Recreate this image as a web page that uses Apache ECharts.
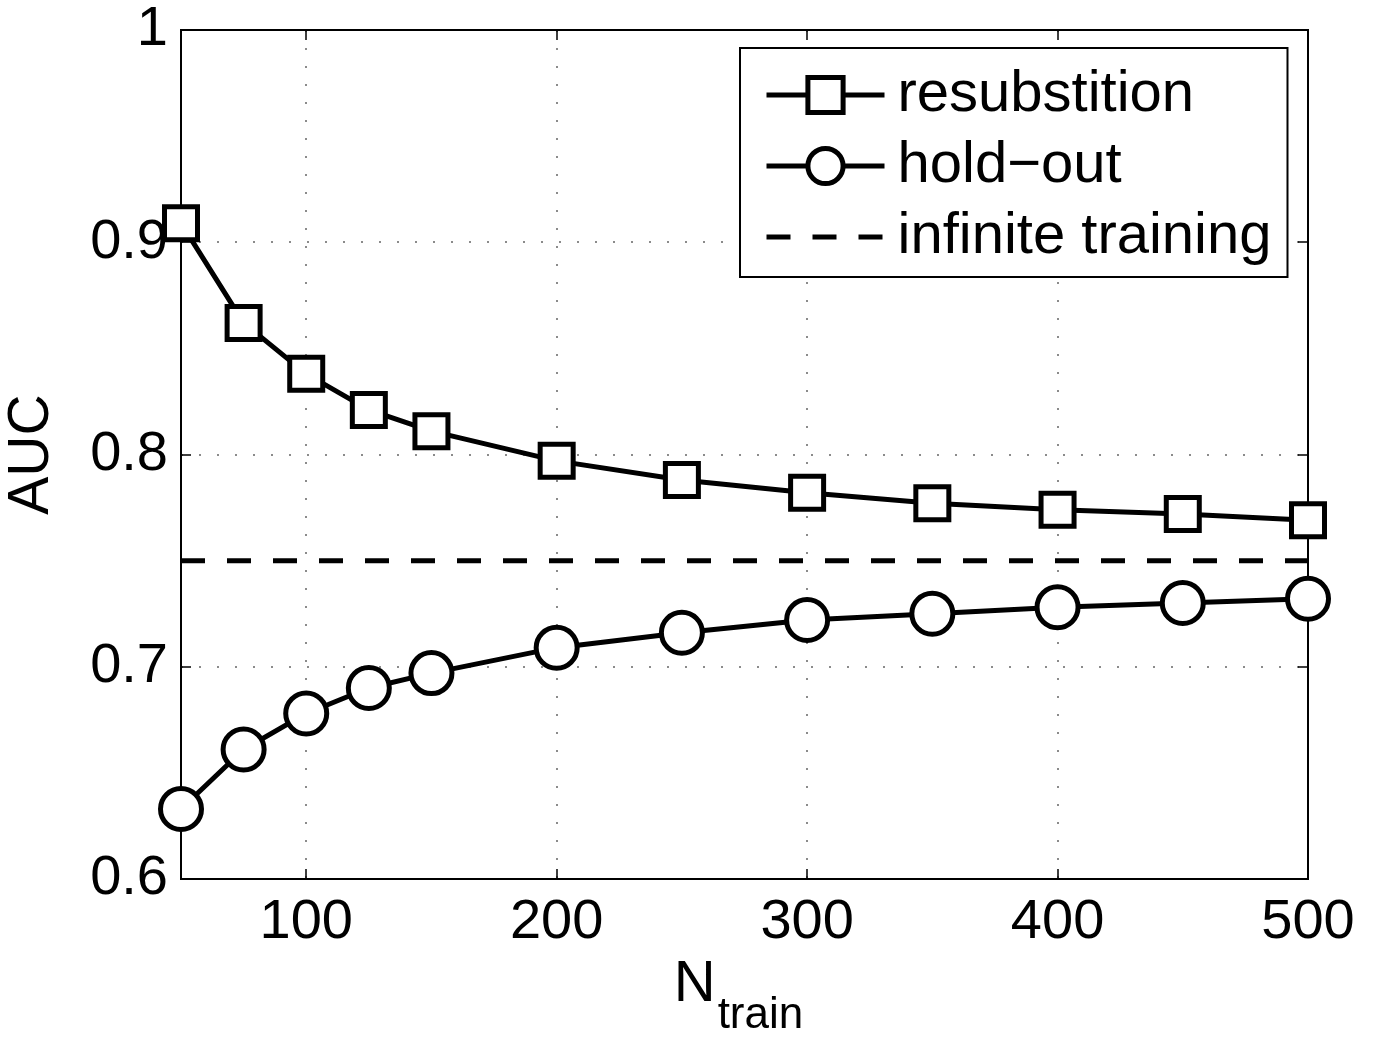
<!DOCTYPE html>
<html>
<head>
<meta charset="utf-8">
<script src="https://cdn.jsdelivr.net/npm/echarts@6/dist/echarts.min.js"></script>
<style>
html,body{margin:0;padding:0;background:#fff;}
#chart{width:1375px;height:1042px;}
</style>
</head>
<body>
<div id="chart"></div>
<script>
// ---- data ----
var nTrain = [50, 75, 100, 125, 150, 200, 250, 300, 350, 400, 450, 500];
var resubstitution = [0.909, 0.862, 0.838, 0.821, 0.811, 0.797, 0.788, 0.782, 0.777, 0.774, 0.772, 0.769];
var holdOut = [0.633, 0.661, 0.678, 0.690, 0.697, 0.709, 0.716, 0.722, 0.725, 0.728, 0.730, 0.732];
var infiniteTraining = [0.75, 0.75];
var infiniteX = [50, 500];
var xTicks = [100, 200, 300, 400, 500];
var yTicks = [0.6, 0.7, 0.8, 0.9, 1];
var seriesNames = ['resubstition', 'hold\u2212out', 'infinite training'];

function pairs(xs, ys) { return xs.map(function (x, i) { return [x, ys[i]]; }); }

var FONT = 'Liberation Sans, Arial, Helvetica, sans-serif';
var chart = echarts.init(document.getElementById('chart'), null, {renderer: 'canvas'});
var gridLine = {show: true, lineStyle: {color: '#666', width: 1.5, type: [2, 16]}};
var tickStyle = {show: true, inside: true, length: 10, lineStyle: {color: '#000', width: 1.5}};

var option = {
  backgroundColor: '#fff',
  animation: false,
  textStyle: {fontFamily: FONT},
  grid: {left: 181, right: 67, top: 30, bottom: 163, show: true, borderColor: '#000', borderWidth: 2,
    backgroundColor: 'transparent', containLabel: false, outerBoundsMode: 'none'},
  xAxis: [{
    type: 'value', min: 50, max: 500,
    name: '{a|N}{b|train}', nameLocation: 'middle', nameGap: 76,
    nameTextStyle: {
      padding: [0, 12, 0, 0],
      rich: {
        a: {fontSize: 58, fontFamily: FONT, color: '#000', verticalAlign: 'top', lineHeight: 58},
        b: {fontSize: 44, fontFamily: FONT, color: '#000', verticalAlign: 'top', lineHeight: 44, padding: [38, 0, 0, 2]}
      }
    },
    axisLine: {show: true, lineStyle: {color: '#000', width: 2}},
    axisTick: Object.assign({customValues: xTicks}, tickStyle),
    axisLabel: {customValues: xTicks, fontSize: 56, color: '#000', margin: 16, fontFamily: FONT},
    splitLine: Object.assign({customValues: xTicks}, gridLine)
  }, {
    type: 'value', min: 50, max: 500, position: 'top',
    axisLine: {show: true, lineStyle: {color: '#000', width: 2}},
    axisTick: Object.assign({customValues: xTicks}, tickStyle),
    axisLabel: {show: false}, splitLine: {show: false}
  }],
  yAxis: [{
    type: 'value', min: 0.6, max: 1, interval: 0.1,
    name: 'AUC', nameLocation: 'middle', nameGap: 120,
    nameTextStyle: {fontSize: 57, color: '#000', fontFamily: FONT},
    axisLine: {show: true, lineStyle: {color: '#000', width: 2}},
    axisTick: tickStyle,
    axisLabel: {fontSize: 56, color: '#000', margin: 13, fontFamily: FONT,
      formatter: function (v) { return String(Math.round(v * 10) / 10); }},
    splitLine: gridLine
  }, {
    type: 'value', min: 0.6, max: 1, interval: 0.1, position: 'right',
    axisLine: {show: true, lineStyle: {color: '#000', width: 2}},
    axisTick: tickStyle,
    axisLabel: {show: false}, splitLine: {show: false}
  }],
  legend: {
    orient: 'vertical', left: 740, top: 48,
    backgroundColor: '#fff', borderColor: '#000', borderWidth: 2,
    padding: [18, 16, 11, 24],
    itemWidth: 118, itemHeight: 44, itemGap: 13,
    textStyle: {fontSize: 58, lineHeight: 58, color: '#000', fontFamily: FONT, padding: [0, 0, 0, 8]},
    data: [
      {name: seriesNames[0], itemStyle: {borderWidth: 5}, lineStyle: {width: 5}},
      {name: seriesNames[1], itemStyle: {borderWidth: 5}, lineStyle: {width: 5}},
      {name: seriesNames[2], itemStyle: {opacity: 0}, lineStyle: {width: 5}}
    ]
  },
  series: [
    {
      name: seriesNames[0], type: 'line', data: pairs(nTrain, resubstitution),
      symbol: 'rect', symbolSize: 33,
      itemStyle: {color: '#fff', borderColor: '#000', borderWidth: 5},
      lineStyle: {color: '#000', width: 5}, z: 3
    },
    {
      name: seriesNames[1], type: 'line', data: pairs(nTrain, holdOut),
      symbol: 'circle', symbolSize: 41,
      itemStyle: {color: '#fff', borderColor: '#000', borderWidth: 5},
      lineStyle: {color: '#000', width: 5}, z: 3
    },
    {
      name: seriesNames[2], type: 'line', data: pairs(infiniteX, infiniteTraining),
      symbol: 'none', itemStyle: {color: '#000'},
      lineStyle: {color: '#000', width: 5, type: [24, 22]}, z: 2
    }
  ]
};
chart.setOption(option);
</script>
</body>
</html>
